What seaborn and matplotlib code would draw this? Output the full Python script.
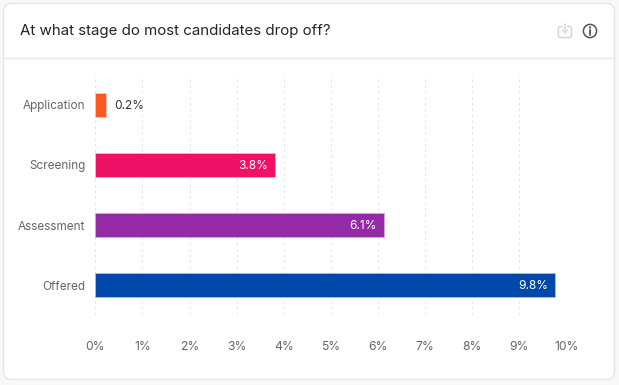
import matplotlib
matplotlib.use("Agg")
import matplotlib.pyplot as plt
from matplotlib.patches import FancyBboxPatch, Circle, Rectangle
from matplotlib.lines import Line2D
import pandas as pd
import seaborn as sns

stages = ["Application", "Screening", "Assessment", "Offered"]
dropoff = [0.23, 3.82, 6.13, 9.77]
bar_colors = ["#FF5722", "#EE1166", "#952AA6", "#0049AA"]
edge_colors = ["#FFC9B8", "#F9B0CC", "#D5AADC", "#A0BEE8"]
xticks = [0, 1, 2, 3, 4, 5, 6, 7, 8, 9, 10]
title = "At what stage do most candidates drop off?"

W, H = 619, 385


def px(x, y):
    # pixel position from top left -> figure fraction
    return x / W, 1 - y / H


def main():
    sns.set_theme(style="white")
    plt.rcParams['font.family'] = ['Inter', 'DejaVu Sans']

    df = pd.DataFrame({"stage": stages, "dropoff": dropoff})

    fig = plt.figure(figsize=(W / 100, H / 100), dpi=100, facecolor="#F8F8F8")

    # card and header
    bg = fig.add_axes([0, 0, 1, 1], zorder=0)
    bg.set_xlim(0, W)
    bg.set_ylim(H, 0)
    bg.axis("off")
    bg.add_patch(FancyBboxPatch((9, 9), 600, 365,
                                boxstyle="round,pad=5.5,rounding_size=8",
                                fc="white", ec="#E6E6E6", lw=1.0))
    bg.add_line(Line2D([3.5, 614.5], [57.5, 57.5], color="#E8E8E8", lw=1.0))
    bg.text(20, 31, title, fontsize=10.85, color="#23262A", va="center", ha="left")

    # download icon
    grey = "#D9DCDC"
    bg.add_patch(FancyBboxPatch((558.5, 26.5), 13, 11,
                                boxstyle="round,pad=0,rounding_size=2",
                                fc="none", ec=grey, lw=1.2))
    bg.add_patch(Rectangle((563, 24), 4, 6, fc="white", ec="none"))
    bg.add_line(Line2D([565, 565], [23.5, 32.5], color=grey, lw=1.1))
    bg.add_line(Line2D([562.5, 565, 567.5], [30, 32.5, 30], color=grey, lw=1.1))

    # info icon
    bg.add_patch(Circle((590, 31), 6.6, fc="none", ec="#555555", lw=1.1))
    bg.add_line(Line2D([590, 590], [30, 34.5], color="#555555", lw=1.3))
    bg.add_line(Line2D([590, 590], [27.2, 28.4], color="#555555", lw=1.3))

    # chart area
    x0, y0 = px(95.3, 315)
    x1, y1 = px(566.3, 75)
    ax = fig.add_axes([x0, y0, x1 - x0, y1 - y0], zorder=1)
    ax.patch.set_alpha(0)

    sns.barplot(data=df, x="dropoff", y="stage", hue="stage", order=stages,
                hue_order=stages, palette=bar_colors, width=0.405, dodge=False,
                legend=False, ax=ax, zorder=3, saturation=1)

    for patch, ec in zip(ax.patches, edge_colors):
        patch.set_edgecolor(ec)
        patch.set_linewidth(0.6)

    ax.set_xlim(0, 10)
    ax.set_ylim(3.5, -0.5)
    ax.set_xticks(xticks)
    ax.set_xticklabels([str(t) + "%" for t in xticks], fontsize=8.7, color="#666666")
    ax.tick_params(axis="x", length=0, pad=18.5)
    ax.tick_params(axis="y", length=0, pad=7, labelsize=8.45, labelcolor="#666666")
    ax.set_xlabel("")
    ax.set_ylabel("")
    sns.despine(ax=ax, left=True, bottom=True)
    ax.grid(axis="x", color="#E4E4E4", ls=(0, (2.5, 3.5)), lw=0.7, zorder=0)
    ax.set_axisbelow(True)

    # value labels
    for i, v in enumerate(dropoff):
        if v < 1:
            ax.annotate(f"{v:.1f}%", (v, i), xytext=(5.8, -0.7), textcoords="offset points",
                        fontsize=8.6, color="#333333", va="center", ha="left")
        else:
            ax.annotate(f"{v:.1f}%", (v, i), xytext=(-5.0, -0.7), textcoords="offset points",
                        fontsize=8.6, color="white", va="center", ha="right")

    fig.savefig("out.png", dpi=100, facecolor=fig.get_facecolor())


if __name__ == "__main__":
    main()
